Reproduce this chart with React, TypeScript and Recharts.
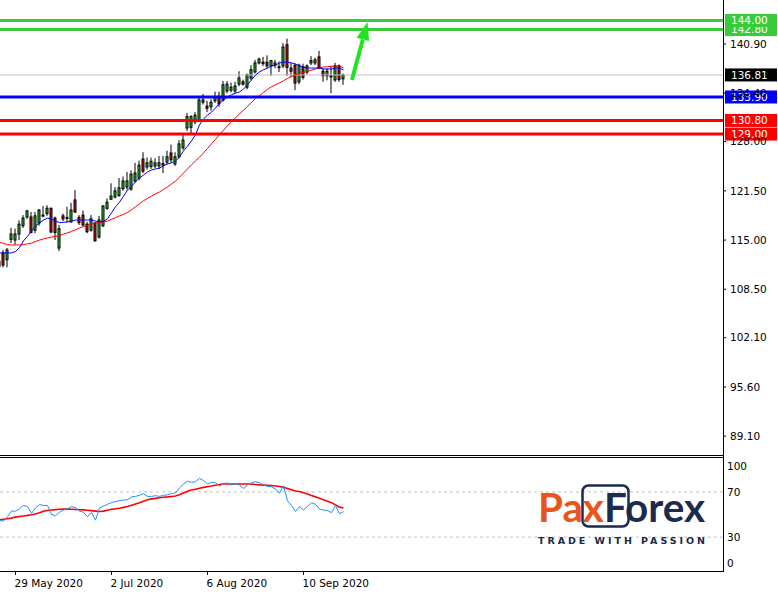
import { Bar, ComposedChart, Line, ReferenceLine, XAxis, YAxis } from "recharts";

// daily bars, 22 May 2020 .. 24 Sep 2020
const OPEN = [111.5, 113.3, 112.4, 115.1, 115.0, 115.8, 116.9, 118.05, 118.05, 116.3, 117.25, 118.2, 118.5, 119.2, 117.9, 113.95, 118.2, 117.9, 117.4, 120.3, 118.0, 118.3, 117.1, 116.3, 117.25, 115.4, 116.9, 119.2, 120.4, 120.7, 120.9, 121.8, 122.0, 121.75, 122.8, 123.2, 125.7, 124.65, 124.7, 124.8, 124.8, 125.1, 125.3, 126.5, 125.05, 126.0, 127.2, 129.8, 129.9, 130.6, 130.86, 133.2, 132.7, 132.6, 133.4, 134.0, 133.5, 134.7, 134.8, 134.7, 135.6, 135.9, 135.2, 136.4, 137.2, 138.4, 138.5, 138.5, 138.0, 138.1, 137.9, 138.0, 140.8, 137.7, 138.1, 135.9, 137.9, 137.2, 138.4, 138.4, 139.2, 137.3, 136.7, 136.7, 136.15, 138.0, 136.3];
const HIGH = [113.4, 113.7, 113.95, 116.6, 116.5, 117.6, 118.3, 119.0, 118.7, 118.7, 119.1, 119.5, 119.6, 119.3, 118.1, 117.0, 118.5, 119.4, 119.9, 121.6, 118.3, 118.9, 117.4, 118.3, 117.4, 118.2, 119.6, 120.5, 122.5, 122.0, 123.2, 123.4, 124.0, 124.2, 125.2, 125.5, 126.6, 125.9, 125.9, 125.8, 126.1, 126.1, 126.8, 127.6, 126.6, 128.2, 128.9, 131.8, 131.5, 131.9, 133.9, 134.3, 133.4, 133.6, 134.6, 134.6, 136.0, 136.0, 135.8, 135.9, 137.3, 136.2, 137.0, 138.1, 138.8, 139.1, 139.2, 139.4, 138.8, 138.8, 138.6, 141.0, 141.6, 138.4, 138.3, 138.3, 138.3, 138.2, 139.3, 139.1, 140.0, 137.7, 137.7, 138.0, 138.4, 138.2, 137.0];
const LOW = [110.8, 111.4, 111.4, 114.6, 114.4, 115.0, 116.6, 117.8, 115.9, 115.9, 116.9, 118.0, 118.2, 115.9, 115.0, 113.55, 117.5, 117.3, 117.3, 118.6, 117.0, 116.8, 115.9, 116.1, 114.8, 115.2, 116.7, 119.0, 120.3, 120.5, 120.7, 121.5, 121.6, 121.5, 122.6, 122.9, 123.85, 124.3, 124.4, 124.5, 124.4, 123.85, 125.0, 125.2, 124.8, 125.8, 126.9, 129.4, 129.1, 130.3, 130.6, 132.9, 131.9, 132.1, 133.1, 132.6, 133.3, 134.4, 134.5, 134.4, 135.3, 135.4, 134.9, 136.1, 137.0, 138.2, 138.0, 137.7, 136.7, 137.7, 137.2, 137.7, 136.7, 136.5, 134.8, 135.6, 136.2, 136.9, 138.1, 138.1, 137.6, 135.9, 136.1, 134.4, 135.9, 135.9, 135.5];
const CLOSE = [112.2, 111.7, 113.7, 115.8, 115.8, 117.1, 117.9, 118.85, 116.0, 118.2, 118.97, 118.3, 119.2, 116.07, 116.0, 116.5, 117.8, 118.0, 118.97, 118.7, 117.3, 117.0, 116.1, 117.8, 114.9, 117.65, 119.5, 120.0, 120.8, 121.5, 121.9, 122.8, 122.8, 123.7, 123.85, 124.9, 124.1, 125.2, 125.4, 125.2, 125.2, 124.9, 126.0, 125.6, 126.0, 127.7, 128.2, 131.3, 131.3, 131.5, 133.5, 133.5, 132.4, 133.2, 133.8, 133.0, 135.5, 135.6, 135.2, 135.35, 136.4, 135.6, 136.8, 137.5, 138.4, 138.9, 138.3, 138.0, 138.7, 138.4, 137.8, 140.5, 137.8, 137.3, 135.75, 138.1, 136.5, 138.0, 138.7, 138.8, 137.7, 136.7, 137.3, 136.55, 138.0, 136.2, 136.81];

// moving averages
const MA_FAST = [113.3, 113.3, 113.3, 113.3, 113.5, 114.0, 114.9, 115.5, 116.2, 116.85, 117.25, 117.65, 117.9, 117.8, 117.5, 117.3, 117.35, 117.4, 117.5, 117.65, 117.65, 117.65, 117.65, 117.65, 117.5, 117.4, 117.5, 117.8, 118.6, 119.4, 120.0, 120.8, 121.6, 122.1, 122.7, 123.2, 123.6, 124.0, 124.26, 124.4, 124.5, 124.8, 125.05, 125.2, 125.45, 125.97, 126.8, 127.4, 128.1, 128.9, 130.2, 131.0, 131.5, 131.9, 132.45, 133.1, 133.5, 133.9, 134.2, 134.4, 134.56, 134.95, 135.5, 136.15, 136.8, 137.2, 137.5, 137.7, 138.0, 138.1, 138.4, 138.5, 138.5, 138.4, 138.26, 138.0, 137.86, 137.73, 137.73, 137.73, 137.73, 137.6, 137.6, 137.6, 137.73, 137.73, 137.47];
const MA_SLOW = [114.74, 114.55, 114.4, 114.35, 114.35, 114.35, 114.4, 114.5, 114.6, 114.8, 115.0, 115.15, 115.27, 115.4, 115.5, 115.6, 115.8, 115.95, 116.15, 116.35, 116.59, 116.8, 116.95, 117.12, 117.25, 117.3, 117.4, 117.5, 117.75, 117.95, 118.2, 118.4, 118.65, 119.0, 119.4, 119.8, 120.2, 120.5, 120.8, 121.1, 121.35, 121.7, 122.0, 122.4, 122.8, 123.3, 123.85, 124.4, 124.95, 125.45, 125.95, 126.5, 127.1, 127.7, 128.3, 128.95, 129.5, 130.1, 130.65, 131.15, 131.65, 132.15, 132.65, 133.2, 133.7, 134.1, 134.5, 134.9, 135.25, 135.5, 135.75, 136.05, 136.35, 136.6, 136.85, 137.0, 137.15, 137.3, 137.45, 137.6, 137.73, 137.86, 137.9, 137.95, 138.0, 138.0, 137.73];

// oscillator panel
const RSI = [45, 44, 48, 53, 53, 55, 58, 57, 51, 56, 58.7, 58, 58, 50, 49, 52, 54, 55, 57, 56, 53, 52, 48, 52, 45, 55.7, 57.5, 59, 60.5, 61.5, 62.2, 62.8, 63, 65.5, 66, 67, 68.4, 66, 66, 66.7, 66, 67, 67.4, 68.5, 69, 73.5, 77, 79.4, 78.5, 79, 82, 80, 77, 78.5, 78, 75, 77.5, 77.8, 76, 77.5, 76, 73, 76, 78, 79, 78, 76, 75, 74.5, 72.5, 69, 75.5, 62, 58, 52.7, 57, 54, 57, 60.4, 59, 54.8, 54, 53.5, 51.6, 57.9, 50.7, 52.5];
const RSI_MA = [45.3, 45.8, 46.3, 46.8, 47.7, 48.2, 48.7, 49.2, 49.8, 50.5, 51.5, 52.8, 53.5, 54, 54.3, 54.6, 54.8, 54.8, 54.6, 54.4, 54.2, 54.1, 53.8, 53.4, 53.0, 52.6, 53.0, 53.8, 54.6, 55.1, 55.6, 56.3, 57.1, 58.1, 59.3, 60.5, 61.8, 63.1, 63.8, 64.3, 64.8, 65.3, 65.6, 66, 66.4, 67.5, 69, 70.5, 71.6, 72.4, 73.2, 74, 74.6, 75.2, 75.9, 76.5, 77, 77, 77, 77, 77, 77, 77, 76.8, 76.5, 76.2, 76, 75.8, 75.6, 75.2, 74.8, 74, 73, 72, 70.8, 70.3, 69.3, 68.2, 66.8, 65.6, 64.3, 63.1, 61.8, 60.5, 58.5, 56.5, 55.7];

const PRICE_TICKS = [140.9, 134.4, 128.0, 121.5, 115.0, 108.5, 102.1, 95.6, 89.1];
const RSI_TICKS = [0, 30, 70, 100];
const RSI_LEVELS = [70, 30];
const DATE_TICK_BARS = [4, 28, 52, 76];
const DATE_TICK_LABELS = ["29 May 2020", "2 Jul 2020", "6 Aug 2020", "10 Sep 2020"];

const TARGETS = [142.8, 144.0];
const PIVOT = 133.9;
const SUPPORTS = [130.8, 129.0];
const LAST_PRICE = 136.81;
const ARROW_FROM = { bar: 88.1, price: 136.15 };
const ARROW_TO = { bar: 92.0, price: 143.8 };

const X_DOMAIN: [number, number] = [0.125, 180.875];
const PRICE_DOMAIN: [number, number] = [86.61, 146.71];

const FONT = "'DejaVu Sans', sans-serif";
const FS = 10.5;
const BULL = "#26CC26";
const BEAR = "#DD1111";
const GREEN = "#3ACB3A";
const ORANGE = "#E8561E";
const NAVY = "#1C2A4D";

const bars = CLOSE.map((close, i) => ({
  i,
  open: OPEN[i],
  high: HIGH[i],
  low: LOW[i],
  close,
  maFast: MA_FAST[i],
  maSlow: MA_SLOW[i],
  rsi: RSI[i],
  rsiMa: RSI_MA[i],
}));

function Candle(props: any) {
  const { x, y, width, height, payload } = props;
  const top = Math.min(y, y + height);
  const h = Math.abs(height);
  const k = h / (payload.high - payload.low || 1);
  const yO = top + (payload.high - payload.open) * k;
  const yC = top + (payload.high - payload.close) * k;
  const cx = x + width / 2;
  const bTop = Math.min(yO, yC);
  const bH = Math.max(Math.abs(yO - yC), 1);
  const up = payload.close >= payload.open;
  return (
    <g>
      <line x1={cx} x2={cx} y1={top} y2={top + h} stroke="#000" strokeWidth={1} />
      <rect x={cx - 1} y={bTop} width={2} height={bH} fill={up ? BULL : BEAR} stroke="#000" strokeWidth={1} />
    </g>
  );
}

function PriceTag(props: any) {
  const { viewBox, value, bg } = props;
  if (!viewBox) return null;
  const right = viewBox.x + viewBox.width;
  const y = viewBox.y;
  return (
    <g>
      <rect x={right + 2} y={y - 6.5} width={52} height={13} fill={bg} />
      <text x={right + 8} y={y} dy="0.355em" fill="#fff" fontSize={FS} fontFamily={FONT}>
        {value.toFixed(2)}
      </text>
    </g>
  );
}

function Arrow(props: any) {
  const { x1, y1, x2, y2 } = props;
  const dx = x2 - x1;
  const dy = y2 - y1;
  const len = Math.hypot(dx, dy) || 1;
  const ux = dx / len;
  const uy = dy / len;
  const bx = x2 - ux * 18;
  const by = y2 - uy * 18;
  const px = -uy * 6.5;
  const py = ux * 6.5;
  return (
    <g>
      <line x1={x1} y1={y1} x2={bx} y2={by} stroke="#22E322" strokeWidth={4} />
      <polygon points={`${x2},${y2} ${bx + px},${by + py} ${bx - px},${by - py}`} fill="#22E322" />
    </g>
  );
}

function DateTick(props: any) {
  const { x, y, payload } = props;
  const idx = DATE_TICK_BARS.indexOf(payload.value);
  return (
    <text x={x - 1} y={y} dy="0.71em" textAnchor="start" fill="#000" fontSize={FS} fontFamily={FONT}>
      {DATE_TICK_LABELS[idx]}
    </text>
  );
}

function RsiTick(props: any) {
  const { x, y, payload } = props;
  const shift = payload.value === 100 ? 8.5 : payload.value === 0 ? -8 : 0;
  return (
    <text x={x} y={y + shift} dy="0.355em" textAnchor="start" fill="#000" fontSize={FS} fontFamily={FONT}>
      {payload.value}
    </text>
  );
}

function PricePanel() {
  return (
    <ComposedChart width={778} height={455} data={bars} margin={{ top: 0, right: 0, bottom: 0, left: 0 }}>
      <XAxis dataKey="i" type="number" domain={X_DOMAIN} allowDataOverflow hide />
      <YAxis
        orientation="right"
        width={55}
        domain={PRICE_DOMAIN}
        allowDataOverflow
        ticks={PRICE_TICKS}
        interval={0}
        tickFormatter={(v: number) => v.toFixed(2)}
        axisLine={false}
        tickSize={3}
        tickMargin={4}
        tickLine={{ stroke: "#000" }}
        tick={{ fill: "#000", fontSize: FS, fontFamily: FONT }}
      />
      <ReferenceLine y={LAST_PRICE} stroke="#C0C0C0" strokeWidth={1} label={<PriceTag value={LAST_PRICE} bg="#000" />} />
      <Bar dataKey={(d: any) => [d.low, d.high]} barSize={3} shape={Candle} isAnimationActive={false} />
      <Line dataKey="maSlow" type="linear" stroke="#FF0000" strokeWidth={1} dot={false} isAnimationActive={false} />
      <Line dataKey="maFast" type="linear" stroke="#0000FF" strokeWidth={1} dot={false} isAnimationActive={false} />
      {TARGETS.map((v) => (
        <ReferenceLine key={v} y={v} stroke={GREEN} strokeWidth={3} label={<PriceTag value={v} bg={GREEN} />} />
      ))}
      <ReferenceLine y={PIVOT} stroke="#0000FF" strokeWidth={3} label={<PriceTag value={PIVOT} bg="#0000FF" />} />
      {SUPPORTS.map((v) => (
        <ReferenceLine key={v} y={v} stroke="#FF0000" strokeWidth={3} label={<PriceTag value={v} bg="#FF0000" />} />
      ))}
      <ReferenceLine
        segment={[
          { x: ARROW_FROM.bar, y: ARROW_FROM.price },
          { x: ARROW_TO.bar, y: ARROW_TO.price },
        ]}
        shape={Arrow}
      />
    </ComposedChart>
  );
}

function RsiPanel() {
  return (
    <ComposedChart width={778} height={137} data={bars} margin={{ top: 1, right: 0, bottom: 0, left: 0 }}>
      <XAxis
        dataKey="i"
        type="number"
        domain={X_DOMAIN}
        allowDataOverflow
        ticks={DATE_TICK_BARS}
        interval={0}
        height={23}
        axisLine={false}
        tickSize={4}
        tickMargin={5}
        tickLine={{ stroke: "#000" }}
        tick={<DateTick />}
      />
      <YAxis
        orientation="right"
        width={55}
        domain={[0, 100]}
        allowDataOverflow
        ticks={RSI_TICKS}
        interval={0}
        axisLine={false}
        tickLine={false}
        tickSize={0}
        tickMargin={4}
        tick={<RsiTick />}
      />
      {RSI_LEVELS.map((v) => (
        <ReferenceLine key={v} y={v} stroke="#C0C0C0" strokeDasharray="3 3" strokeWidth={1} />
      ))}
      <Line dataKey="rsiMa" type="linear" stroke="#FF0000" strokeWidth={1.6} dot={false} isAnimationActive={false} />
      <Line dataKey="rsi" type="linear" stroke="#1E90FF" strokeWidth={1} dot={false} isAnimationActive={false} />
    </ComposedChart>
  );
}

export default function App() {
  const rule = (s: any) => <div style={{ position: "absolute", background: "#000", ...s }} />;
  return (
    <div style={{ position: "absolute", left: 0, top: 0, width: 778, height: 594, background: "#fff", overflow: "hidden" }}>
      <div style={{ position: "absolute", left: 0, top: 0 }}>
        <PricePanel />
      </div>
      <div style={{ position: "absolute", left: 0, top: 457 }}>
        <RsiPanel />
      </div>
      {rule({ left: 0, top: 455, width: 724, height: 1 })}
      {rule({ left: 0, top: 457, width: 724, height: 1 })}
      {rule({ left: 0, top: 571, width: 724, height: 1 })}
      {rule({ left: 723, top: 0, width: 1, height: 572 })}
      <svg width={778} height={594} style={{ position: "absolute", left: 0, top: 0, pointerEvents: "none" }}>
        <rect x={582.5} y={485.5} width={46} height={41} rx={6} fill="none" stroke={NAVY} strokeWidth={2.5} />
        <text x={538} y={522} fontFamily="Lato" fontWeight={700} fontSize={41} textLength={167} lengthAdjust="spacingAndGlyphs">
          <tspan fill={ORANGE}>Pax</tspan>
          <tspan fill={NAVY}>Forex</tspan>
        </text>
        <text x={538} y={544} fontFamily={FONT} fontWeight={700} fontSize={9.5} fill={NAVY} textLength={167} lengthAdjust="spacing">
          TRADE WITH PASSION
        </text>
      </svg>
    </div>
  );
}
